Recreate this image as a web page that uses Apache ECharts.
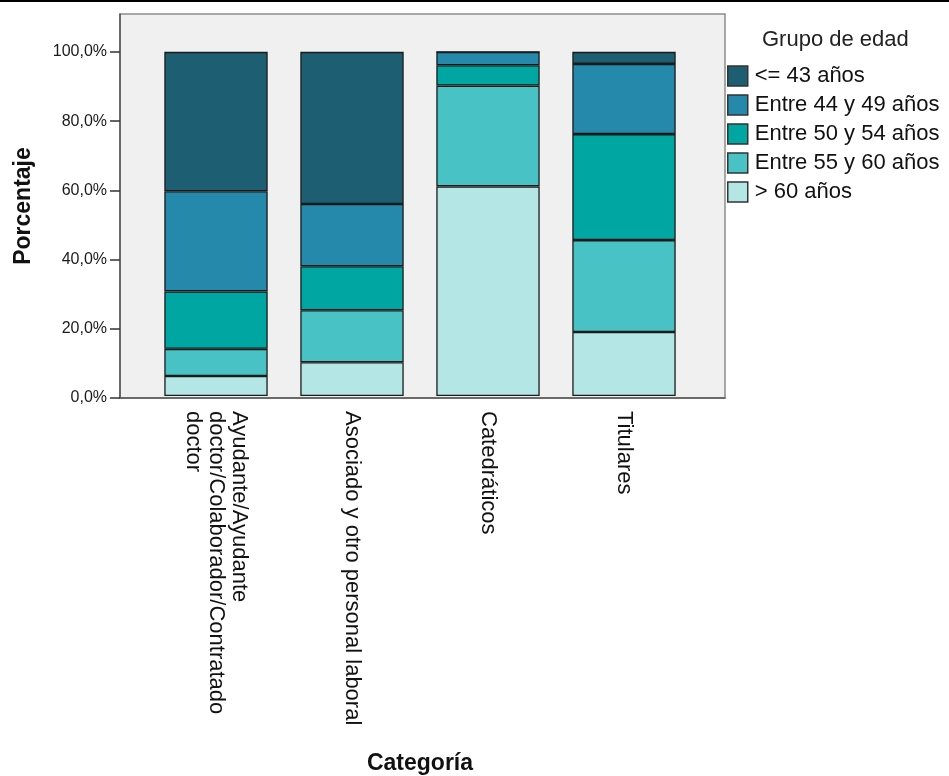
<!DOCTYPE html>
<html>
<head>
<meta charset="utf-8">
<script src="https://cdn.jsdelivr.net/npm/echarts@6/dist/echarts.min.js"></script>
<style>
html,body{margin:0;padding:0;background:#fff;}
#chart{width:949px;height:776px;}
</style>
</head>
<body>
<div id="chart"></div>
<script>
const categories = [
  "Ayudante/Ayudante\ndoctor/Colaborador/Contratado\ndoctor",
  "Asociado y otro personal laboral",
  "Catedráticos",
  "Titulares"
];
const seriesNames = ["> 60 años", "Entre 55 y 60 años", "Entre 50 y 54 años", "Entre 44 y 49 años", "<= 43 años"];
const legendOrder = ["<= 43 años", "Entre 44 y 49 años", "Entre 50 y 54 años", "Entre 55 y 60 años", "> 60 años"];
const over60 = [5.8, 9.8, 60.9, 18.6];
const age55to60 = [7.9, 15.1, 29.3, 26.7];
const age50to54 = [16.7, 12.8, 5.9, 30.8];
const age44to49 = [29.1, 18.1, 3.9, 20.4];
const upTo43 = [40.5, 44.2, 0, 3.5];
const yTicks = [0, 20, 40, 60, 80, 100];
const colors = ["#b4e6e6", "#48c2c5", "#00a6a2", "#2489aa", "#1d5e72"];

const values = [over60, age55to60, age50to54, age44to49, upTo43];
const FONT = '"Liberation Sans", Arial, sans-serif';
const Y_MAX = 111;

const chart = echarts.init(document.getElementById('chart'), null, {renderer: 'canvas'});
chart.setOption({
  animation: false,
  backgroundColor: '#ffffff',
  textStyle: {fontFamily: FONT},
  graphic: [{
    type: 'rect', left: 0, top: 0,
    shape: {width: 949, height: 2},
    style: {fill: '#000'}
  }],
  title: {
    text: 'Grupo de edad',
    left: 757, top: 24,
    textStyle: {fontFamily: FONT, fontSize: 22, fontWeight: 'normal', color: '#222'}
  },
  legend: {
    orient: 'vertical',
    left: 727, top: 65,
    padding: 0,
    data: legendOrder,
    itemWidth: 20, itemHeight: 20, itemGap: 7,
    icon: 'rect',
    textStyle: {fontFamily: FONT, fontSize: 22, color: '#111', lineHeight: 22, padding: [0,0,0,2]},
    itemStyle: {borderColor: '#333', borderWidth: 1.5}
  },
  grid: [
    {left: 120, right: 224, top: 14, bottom: 378,
     show: true, backgroundColor: '#f0f0f0', borderColor: '#8c8c8c', borderWidth: 1.5},
    {left: 148, right: 257, top: 14, bottom: 378, show: false}
  ],
  xAxis: [
    {
      gridIndex: 0, type: 'value', min: 0, max: 1,
      axisLine: {show: true, lineStyle: {color: '#555', width: 1.5}},
      axisTick: {show: false}, axisLabel: {show: false}, splitLine: {show: false}
    },
    {
      gridIndex: 1,
      type: 'category',
      data: categories,
      name: 'Categoría',
      nameLocation: 'middle',
      nameGap: 356,
      nameTextStyle: {fontFamily: FONT, fontSize: 23, fontWeight: 'bold', color: '#111'},
      axisLine: {show: false},
      axisTick: {alignWithLabel: true, length: 10, lineStyle: {color: '#333', width: 1.5}},
      axisLabel: {rotate: -90, margin: 15, fontFamily: FONT, fontSize: 22, lineHeight: 23, color: '#111', interval: 0}
    }
  ],
  yAxis: [
    {
      gridIndex: 0,
      type: 'value',
      min: 0, max: Y_MAX, interval: 20,
      name: 'Porcentaje',
      nameLocation: 'middle',
      nameGap: 85,
      nameTextStyle: {fontFamily: FONT, fontSize: 23, fontWeight: 'bold', color: '#111'},
      splitLine: {show: false},
      axisLine: {show: true, lineStyle: {color: '#555', width: 1.5}},
      axisTick: {show: true, length: 10, customValues: yTicks, lineStyle: {color: '#333', width: 1.5}},
      axisLabel: {
        margin: 13, fontFamily: FONT, fontSize: 16, color: '#1a1a1a',
        customValues: yTicks,
        formatter: v => v.toFixed(1).replace('.', ',') + '%'
      }
    },
    {
      gridIndex: 1, type: 'value', min: 0, max: Y_MAX, interval: 20,
      show: false, splitLine: {show: false}
    }
  ],
  series: seriesNames.map((name, i) => ({
    name: name,
    type: 'bar',
    xAxisIndex: 1, yAxisIndex: 1,
    stack: 'total',
    barCategoryGap: '24%',
    data: values[i],
    itemStyle: {color: colors[i], borderColor: '#1a1a1a', borderWidth: 1.3}
  }))
});
</script>
</body>
</html>
